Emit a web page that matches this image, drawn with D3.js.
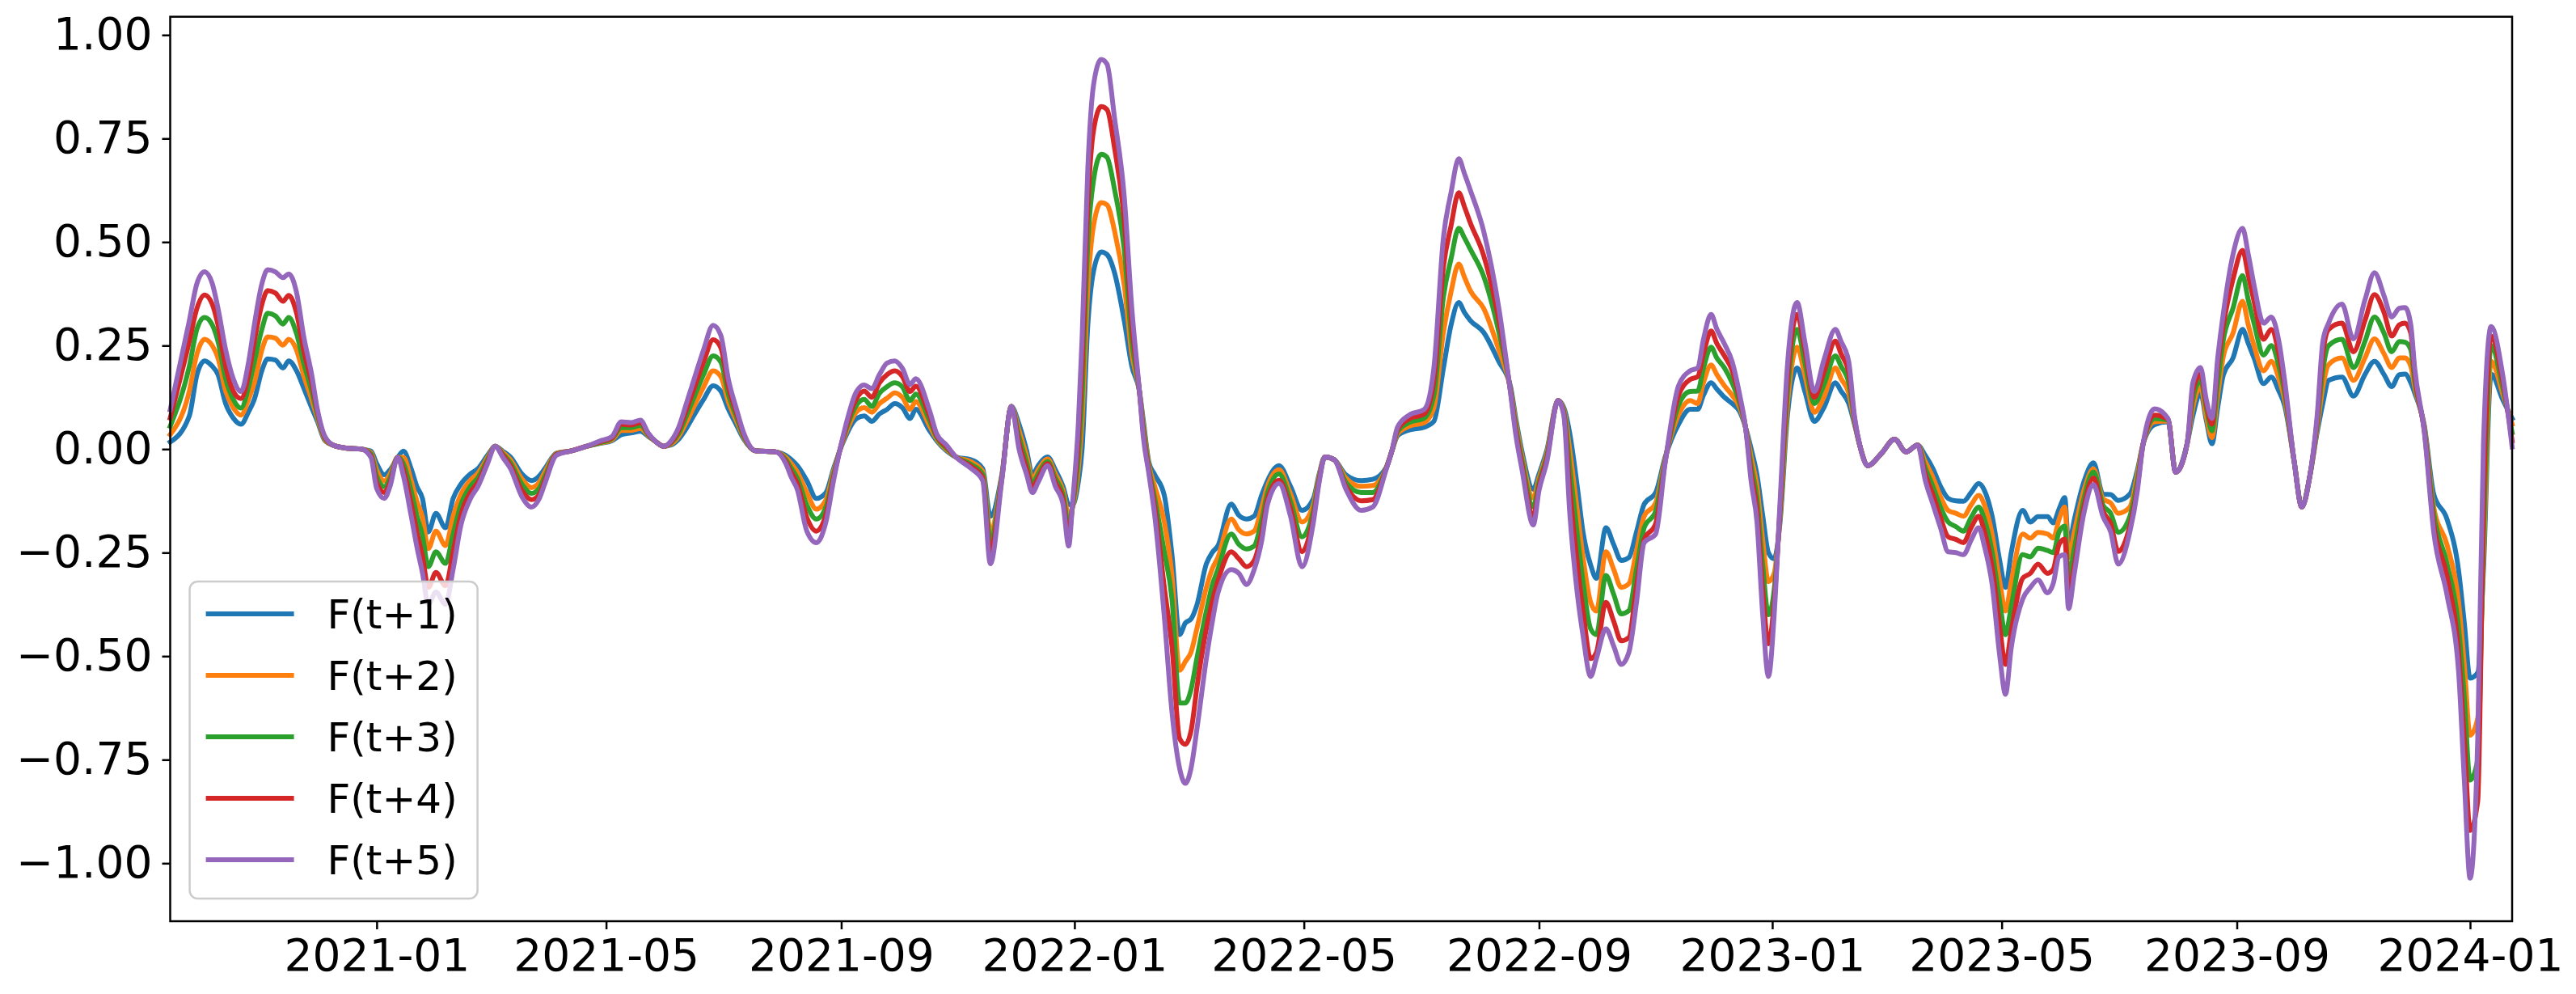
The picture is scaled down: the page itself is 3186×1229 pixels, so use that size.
<!DOCTYPE html>
<html>
<head>
<meta charset="utf-8">
<script src="https://cdn.jsdelivr.net/npm/d3@7"></script>
<style>
  body { margin: 0; background: #fff; }
  text { font-family: "DejaVu Sans", sans-serif; }
</style>
</head>
<body>
<div id="chart"></div>
<script>
// day offsets from 2021-01-01 for every sample
const DAY0 = Date.UTC(2021, 0, 1);
const days = [
  -108,-98,-94,-90,-86,-83,-79,-75,-71,-67,
  -64,-60,-57,-53,-49,-46,-42,-38,-34,-31,
  -27,-22,-15,-8,-3,0,4,7,11,14,
  18,21,24,27,31,36,40,44,49,53,
  58,62,66,70,76,81,85,88,94,102,
  110,117,123,128,133,138,142,146,150,154,
  158,162,166,171,176,180,184,188,192,198,
  209,214,217,220,225,230,235,239,244,251,
  255,259,263,267,271,275,279,282,289,293,
  298,303,311,317,321,327,332,336,340,343,
  346,351,355,359,362,364,367,369,372,375,
  379,382,386,391,395,399,401,404,407,412,
  416,420,423,426,429,434,437,440,447,451,
  455,459,463,466,472,478,484,490,493,496,
  501,507,515,521,528,531,534,540,548,553,
  558,562,566,569,572,579,587,593,596,599,
  605,608,612,618,621,624,628,631,635,638,
  643,647,651,655,659,663,669,674,681,687,
  691,694,698,701,705,709,713,716,719,722,
  725,728,731,734,738,743,747,752,757,763,
  766,770,773,776,780,787,794,800,806,810,
  814,818,822,826,830,834,838,841,845,849,
  852,855,861,865,869,874,877,880,883,885,
  888,893,898,903,907,911,917,921,924,930,
  937,941,947,950,954,957,960,963,966,971,
  976,979,982,987,991,995,998,1003,1007,1011,
  1015,1018,1021,1028,1034,1040,1045,1050,1054,1058,
  1061,1064,1066,1071,1076,1083,1089,1092,1095,1099,
  1102,1106,1112,1117
];

const f1 = [
  .017,.08,.18,.213,.2,.18,.11,.075,.06,.09,
  .12,.19,.218,.215,.196,.213,.19,.146,.1,.067,
  .02,.008,.002,0,-.005,-.035,-.062,-.05,-.02,-.005,
  -.047,-.09,-.12,-.2,-.155,-.19,-.119,-.085,-.06,-.047,
  -.015,.007,-.005,-.019,-.06,-.076,-.065,-.047,-.01,-.004,
  .007,.014,.02,.035,.039,.043,.031,.018,.007,.01,
  .024,.05,.082,.12,.153,.14,.096,.06,.024,-.004,
  -.007,-.015,-.026,-.04,-.076,-.119,-.105,-.047,.017,.074,
  .08,.067,.085,.096,.11,.1,.074,.096,.046,.02,
  -.004,-.019,-.026,-.047,-.162,-.062,.103,.06,-.004,-.062,
  -.04,-.019,-.05,-.09,-.133,-.135,-.08,0,.3,.43,
  .476,.47,.425,.311,.2,.139,.07,-.033,-.062,-.112,
  -.255,-.448,-.42,-.41,-.377,-.277,-.25,-.234,-.133,-.16,
  -.169,-.162,-.11,-.076,-.04,-.09,-.148,-.119,-.06,-.019,
  -.026,-.062,-.076,-.073,-.045,-.005,.032,.046,.053,.067,
  .196,.3,.354,.33,.311,.282,.211,.153,.07,-.004,
  -.097,-.06,-.004,.117,.1,.04,-.09,-.2,-.28,-.312,
  -.19,-.23,-.269,-.262,-.2,-.133,-.105,-.019,.06,.096,
  .096,.13,.16,.145,.125,.11,.09,.053,0,-.062,
  -.16,-.25,-.265,-.18,.084,.196,.14,.067,.1,.16,
  .14,.11,.06,.005,-.04,-.011,.024,-.007,.01,-.015,
  -.047,-.09,-.119,-.125,-.126,-.105,-.083,-.1,-.162,-.27,
  -.334,-.25,-.148,-.176,-.163,-.163,-.178,-.145,-.117,-.232,
  -.17,-.079,-.033,-.109,-.11,-.124,-.109,-.05,.013,.059,
  .066,-.056,.013,.08,.136,.07,.013,.1,.18,.22,
  .289,.255,.22,.158,.174,.14,.105,-.03,-.14,-.07,
  .04,.11,.166,.174,.128,.18,.212,.18,.151,.18,
  .181,.16,.136,.059,-.109,-.17,-.293,-.42,-.553,-.54,
  -.293,.181,.12,.074
];

const f2 = [
  .035,.14,.23,.265,.25,.22,.14,.1,.082,.12,
  .16,.24,.271,.268,.251,.265,.24,.175,.12,.075,
  .022,.008,.002,0,-.008,-.05,-.077,-.06,-.02,-.02,
  -.075,-.125,-.165,-.24,-.198,-.233,-.162,-.11,-.075,-.058,
  -.02,.007,-.008,-.026,-.072,-.093,-.08,-.055,-.011,-.004,
  .007,.015,.022,.045,.045,.05,.033,.018,.007,.012,
  .031,.065,.103,.15,.189,.175,.114,.07,.028,-.004,
  -.007,-.02,-.036,-.055,-.105,-.145,-.122,-.054,.021,.09,
  .1,.089,.11,.123,.136,.125,.096,.115,.058,.024,
  -.001,-.019,-.031,-.054,-.198,-.066,.103,.045,-.018,-.073,
  -.05,-.024,-.06,-.1,-.158,-.14,-.05,.07,.39,.54,
  .595,.59,.526,.397,.23,.139,.06,-.04,-.09,-.176,
  -.305,-.534,-.513,-.49,-.434,-.334,-.29,-.262,-.169,-.195,
  -.205,-.198,-.14,-.09,-.05,-.108,-.176,-.133,-.065,-.019,
  -.026,-.07,-.09,-.088,-.046,-.005,.037,.055,.064,.1,
  .282,.38,.447,.415,.383,.34,.239,.148,.06,-.015,
  -.118,-.07,-.011,.117,.095,0,-.148,-.26,-.37,-.391,
  -.248,-.29,-.334,-.325,-.245,-.162,-.13,-.022,.083,.117,
  .11,.16,.203,.18,.153,.13,.1,.053,-.02,-.09,
  -.22,-.32,-.3,-.17,.11,.246,.18,.089,.125,.196,
  .17,.135,.065,.005,-.04,-.011,.024,-.007,.01,-.03,
  -.068,-.115,-.148,-.155,-.162,-.135,-.112,-.135,-.205,-.32,
  -.391,-.32,-.205,-.215,-.201,-.205,-.215,-.17,-.14,-.262,
  -.2,-.1,-.048,-.12,-.13,-.155,-.14,-.06,.013,.066,
  .068,-.056,.013,.1,.151,.08,.028,.13,.225,.28,
  .357,.3,.25,.189,.212,.17,.12,-.03,-.14,-.07,
  .05,.15,.204,.22,.166,.22,.266,.23,.197,.22,
  .22,.2,.151,.055,-.14,-.232,-.369,-.52,-.691,-.65,
  -.262,.212,.135,.06
];

const f3 = [
  .055,.2,.29,.318,.3,.26,.17,.12,.099,.15,
  .21,.29,.328,.322,.302,.318,.28,.205,.14,.083,
  .025,.008,.002,0,-.012,-.065,-.091,-.07,-.02,-.035,
  -.1,-.16,-.21,-.284,-.248,-.276,-.205,-.135,-.09,-.069,
  -.025,.007,-.012,-.033,-.085,-.107,-.095,-.065,-.012,-.004,
  .007,.016,.025,.052,.052,.057,.035,.018,.007,.015,
  .038,.08,.125,.18,.225,.21,.132,.08,.031,-.004,
  -.007,-.025,-.047,-.07,-.135,-.169,-.14,-.061,.025,.106,
  .12,.103,.135,.151,.16,.15,.117,.133,.071,.028,
  .002,-.019,-.037,-.061,-.219,-.069,.103,.03,-.033,-.084,
  -.06,-.03,-.07,-.11,-.183,-.14,-.02,.13,.5,.65,
  .712,.705,.626,.483,.26,.139,.05,-.048,-.119,-.248,
  -.362,-.613,-.613,-.58,-.506,-.391,-.33,-.291,-.205,-.23,
  -.241,-.234,-.17,-.105,-.06,-.126,-.212,-.147,-.07,-.019,
  -.026,-.08,-.105,-.105,-.047,-.005,.042,.064,.075,.13,
  .368,.46,.533,.51,.483,.418,.282,.145,.05,-.025,
  -.14,-.08,-.018,.117,.09,-.04,-.205,-.32,-.434,-.448,
  -.305,-.35,-.398,-.39,-.29,-.19,-.15,-.026,.106,.139,
  .14,.195,.246,.22,.196,.16,.11,.053,-.04,-.12,
  -.28,-.4,-.34,-.16,.14,.289,.21,.11,.155,.225,
  .2,.16,.07,.005,-.04,-.011,.024,-.007,.01,-.045,
  -.09,-.14,-.176,-.187,-.198,-.165,-.14,-.17,-.248,-.37,
  -.448,-.38,-.255,-.26,-.239,-.245,-.25,-.2,-.186,-.308,
  -.24,-.12,-.055,-.135,-.155,-.201,-.163,-.075,.013,.074,
  .07,-.056,.013,.12,.166,.1,.044,.16,.265,.34,
  .419,.36,.304,.227,.25,.2,.135,-.03,-.14,-.07,
  .06,.19,.25,.265,.197,.26,.319,.28,.235,.26,
  .258,.24,.166,.05,-.155,-.278,-.431,-.6,-.799,-.75,
  -.216,.25,.15,.04
];

const f4 = [
  .075,.26,.34,.372,.35,.3,.2,.14,.122,.18,
  .26,.35,.383,.377,.357,.371,.33,.235,.16,.09,
  .027,.008,.002,0,-.016,-.08,-.105,-.08,-.02,-.05,
  -.13,-.2,-.26,-.334,-.298,-.33,-.248,-.16,-.105,-.08,
  -.03,.007,-.015,-.04,-.1,-.122,-.11,-.075,-.013,-.004,
  .007,.018,.027,.06,.058,.064,.037,.018,.007,.017,
  .046,.095,.146,.21,.264,.245,.15,.09,.035,-.004,
  -.007,-.03,-.058,-.083,-.165,-.198,-.158,-.068,.028,.122,
  .14,.125,.16,.18,.189,.175,.139,.152,.083,.032,
  .006,-.019,-.042,-.069,-.248,-.072,.103,.015,-.048,-.094,
  -.07,-.035,-.08,-.122,-.208,-.135,.02,.2,.59,.77,
  .827,.82,.726,.554,.3,.139,.04,-.055,-.14,-.334,
  -.477,-.699,-.713,-.68,-.577,-.434,-.37,-.319,-.248,-.265,
  -.284,-.269,-.2,-.12,-.075,-.144,-.248,-.162,-.075,-.019,
  -.026,-.09,-.125,-.122,-.048,-.005,.047,.073,.085,.165,
  .44,.54,.619,.585,.547,.468,.311,.142,.04,-.036,
  -.162,-.09,-.025,.117,.085,-.09,-.277,-.39,-.506,-.491,
  -.37,-.415,-.463,-.455,-.33,-.219,-.18,-.03,.13,.168,
  .175,.23,.285,.255,.225,.19,.12,.053,-.06,-.148,
  -.34,-.47,-.37,-.15,.17,.325,.24,.125,.185,.261,
  .23,.185,.075,.005,-.04,-.011,.024,-.007,.01,-.06,
  -.11,-.165,-.212,-.218,-.226,-.19,-.162,-.2,-.284,-.43,
  -.52,-.44,-.312,-.3,-.278,-.3,-.29,-.23,-.217,-.347,
  -.28,-.14,-.07,-.15,-.18,-.247,-.186,-.09,.013,.082,
  .072,-.056,.013,.14,.181,.11,.06,.2,.3,.41,
  .48,.42,.357,.265,.289,.23,.15,-.03,-.14,-.07,
  .07,.23,.289,.304,.235,.31,.373,.33,.273,.3,
  .304,.28,.181,.047,-.18,-.308,-.492,-.7,-.921,-.85,
  -.14,.273,.165,.02
];

const f5 = [
  .095,.31,.4,.428,.4,.34,.24,.17,.139,.21,
  .3,.4,.433,.428,.414,.423,.38,.268,.18,.096,
  .03,.008,.002,0,-.02,-.095,-.119,-.09,-.02,-.065,
  -.16,-.235,-.3,-.375,-.345,-.375,-.29,-.185,-.12,-.09,
  -.035,.007,-.02,-.047,-.115,-.14,-.12,-.083,-.015,-.004,
  .007,.02,.03,.066,.064,.07,.039,.018,.007,.02,
  .053,.11,.168,.24,.299,.275,.168,.1,.039,-.004,
  -.007,-.035,-.069,-.097,-.198,-.226,-.176,-.076,.032,.139,
  .155,.146,.18,.208,.213,.195,.156,.17,.096,.036,
  .01,-.019,-.047,-.076,-.277,-.076,.103,0,-.062,-.105,
  -.08,-.04,-.09,-.133,-.234,-.13,.06,.27,.68,.88,
  .941,.93,.798,.612,.34,.139,.03,-.062,-.162,-.405,
  -.635,-.771,-.807,-.77,-.678,-.506,-.42,-.348,-.291,-.3,
  -.327,-.291,-.22,-.133,-.083,-.162,-.284,-.176,-.08,-.019,
  -.026,-.097,-.148,-.14,-.05,-.005,.053,.082,.096,.196,
  .511,.62,.701,.665,.626,.527,.34,.139,.03,-.047,
  -.183,-.1,-.033,.117,.08,-.15,-.348,-.45,-.549,-.506,
  -.434,-.475,-.52,-.491,-.37,-.226,-.205,-.033,.153,.189,
  .196,.265,.325,.29,.254,.211,.13,.053,-.08,-.176,
  -.4,-.549,-.4,-.134,.206,.354,.26,.139,.215,.289,
  .26,.211,.08,.005,-.04,-.011,.024,-.007,.01,-.075,
  -.133,-.19,-.248,-.25,-.255,-.22,-.19,-.235,-.327,-.5,
  -.592,-.48,-.362,-.334,-.316,-.347,-.324,-.26,-.255,-.385,
  -.3,-.155,-.086,-.163,-.2,-.278,-.201,-.1,.013,.097,
  .074,-.056,.013,.16,.197,.12,.074,.22,.33,.47,
  .533,.47,.396,.304,.319,.26,.166,-.03,-.14,-.07,
  .08,.26,.304,.35,.266,.36,.426,.37,.319,.34,
  .342,.3,.197,.044,-.201,-.354,-.538,-.8,-1.036,-.7,
  .013,.296,.181,.005
];

const seriesNames = ["F(t+1)", "F(t+2)", "F(t+3)", "F(t+4)", "F(t+5)"];
const seriesColors = ["#1f77b4", "#ff7f0e", "#2ca02c", "#d62728", "#9467bd"];
const yTicks = [-1, -0.75, -0.5, -0.25, 0, 0.25, 0.5, 0.75, 1];
const xTickLabels = ["2021-01", "2021-05", "2021-09", "2022-01", "2022-05",
  "2022-09", "2023-01", "2023-05", "2023-09", "2024-01"];

const W = 3186, H = 1229;
const plot = { left: 210.5, right: 3107, top: 20.7, bottom: 1139 };

const toDate = d => new Date(DAY0 + d * 864e5);
const allSeries = [f1, f2, f3, f4, f5];
allSeries.forEach((s, i) => {
  if (s.length !== days.length) console.warn("length mismatch", seriesNames[i], s.length, days.length);
});

const series = seriesNames.map((name, i) => ({
  name,
  color: seriesColors[i],
  values: days.map((d, j) => ({ date: toDate(d), value: allSeries[i][j] }))
}));

const svg = d3.select("#chart")
  .append("svg")
  .attr("width", W)
  .attr("height", H)
  .style("background", "#fff");

const x = d3.scaleUtc()
  .domain(d3.extent(days, toDate))
  .range([plot.left, plot.right]);

const y = d3.scaleLinear()
  .domain([-1.14, 1.044])
  .range([plot.bottom, plot.top]);

// lines, blue first so purple ends on top
const line = d3.line()
  .x(d => x(d.date))
  .y(d => y(d.value))
  .curve(d3.curveMonotoneX);

svg.append("g")
  .selectAll("path")
  .data(series)
  .join("path")
  .attr("d", d => line(d.values))
  .attr("fill", "none")
  .attr("stroke", d => d.color)
  .attr("stroke-width", 6)
  .attr("stroke-linejoin", "round")
  .attr("stroke-linecap", "square");

// axes
const xTicks = xTickLabels.map(s => d3.utcParse("%Y-%m")(s));
const xAxis = svg.append("g")
  .attr("transform", `translate(0,${plot.bottom})`)
  .call(d3.axisBottom(x).tickValues(xTicks).tickFormat(d3.utcFormat("%Y-%m")).tickSize(10).tickPadding(12));

const yAxis = svg.append("g")
  .attr("transform", `translate(${plot.left},0)`)
  .call(d3.axisLeft(y).tickValues(yTicks).tickFormat(d3.format(".2f")).tickSize(10).tickPadding(12));

[xAxis, yAxis].forEach(g => {
  g.select(".domain").remove();
  g.selectAll(".tick line").attr("stroke", "#000").attr("stroke-width", 2.5);
  g.selectAll(".tick text")
    .attr("fill", "#000")
    .style("font-family", "'DejaVu Sans', sans-serif")
    .style("font-size", "55px");
});

// frame
svg.append("rect")
  .attr("x", plot.left)
  .attr("y", plot.top)
  .attr("width", plot.right - plot.left)
  .attr("height", plot.bottom - plot.top)
  .attr("fill", "none")
  .attr("stroke", "#000")
  .attr("stroke-width", 2.5);

// legend, lower left
const legend = svg.append("g").attr("transform", "translate(234.6,719)");
legend.append("rect")
  .attr("width", 356)
  .attr("height", 392)
  .attr("rx", 10)
  .attr("fill", "#fff")
  .attr("fill-opacity", 0.8)
  .attr("stroke", "#cccccc")
  .attr("stroke-width", 2.5);

const items = legend.selectAll("g.item")
  .data(series)
  .join("g")
  .attr("class", "item")
  .attr("transform", (d, i) => `translate(0,${40 + i * 76})`);

items.append("line")
  .attr("x1", 20)
  .attr("x2", 129)
  .attr("stroke", d => d.color)
  .attr("stroke-width", 6);

items.append("text")
  .attr("x", 170)
  .attr("dy", "0.35em")
  .style("font-size", "50px")
  .attr("fill", "#000")
  .text(d => d.name);
</script>
</body>
</html>
